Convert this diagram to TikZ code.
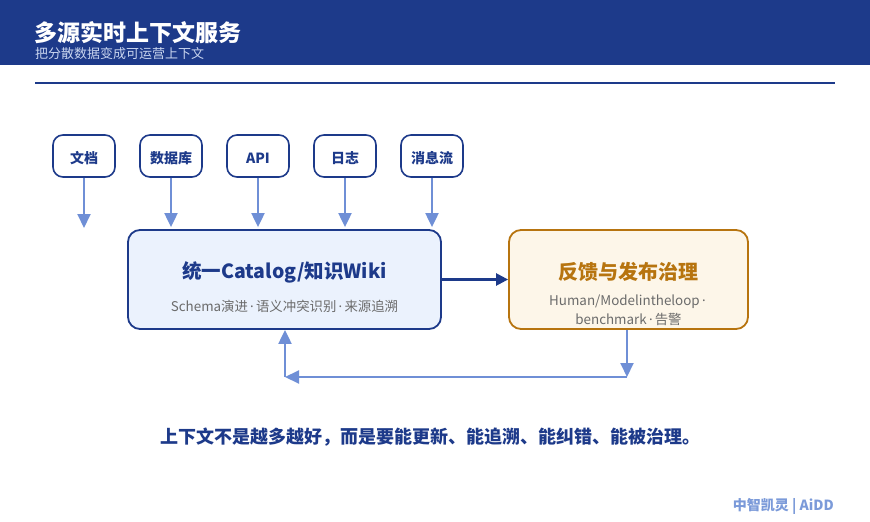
\documentclass[tikz,border=0pt]{standalone}
\usepackage{fontspec}
\setmainfont{Noto Sans CJK SC}
\newfontfamily\latin{Noto Sans}
\usetikzlibrary{positioning,arrows.meta}
\definecolor{navy}{HTML}{1D3A8A}
\definecolor{flowblue}{HTML}{6F8FD6}
\definecolor{mainfill}{HTML}{EBF2FD}
\definecolor{govfill}{HTML}{FDF6E9}
\definecolor{govedge}{HTML}{B7740F}
\definecolor{subgray}{HTML}{6B6B6B}
\definecolor{headsub}{HTML}{C9D5EF}
\definecolor{brand}{HTML}{7B9AD9}
\newcommand{\sepdot}{{\latin\,·\,}}

\tikzset{
  srcbox/.style={draw=navy,line width=1.6pt,rounded corners=10pt,fill=white,
    minimum width=62pt,minimum height=42pt,inner sep=0pt,
    text height=15pt,text depth=0pt,
    font=\fontsize{14}{16}\selectfont\bfseries,text=navy},
  feed/.style={draw=flowblue,line width=2pt,-{Triangle[length=14pt,width=13pt]}},
}

\begin{document}
\begin{tikzpicture}[x=1pt,y=-1pt]
\useasboundingbox (0,0) rectangle (870,522);
\fill[white] (0,0) rectangle (870,522);

% header band
\fill[navy] (0,0) rectangle (870,65);
\node[anchor=west,text=white,font=\fontsize{23}{25}\selectfont\bfseries,inner sep=0pt] (title) at (34,33) {多源实时上下文服务};
\node[anchor=west,text=headsub,font=\fontsize{13}{15}\selectfont,inner sep=0pt] (subtitle) at (35,54) {把分散数据变成可运营上下文};
\draw[navy,line width=1.5pt] (35,83) -- (835,83);

% sources
\node[srcbox] (s1) at (84,156) {文档};
\node[srcbox] (s2) at (171,156) {数据库};
\node[srcbox] (s3) at (258,156) {API};
\node[srcbox] (s4) at (345,156) {日志};
\node[srcbox] (s5) at (432,156) {消息流};

% catalog and governance
\node[draw=navy,line width=1.8pt,rounded corners=12pt,fill=mainfill,
  minimum width=313pt,minimum height=99pt] (main) at (284.5,279.5) {};
\node[text=navy,font=\fontsize{19.5}{22}\selectfont\bfseries] (maint) at (284.5,272) {统一Catalog/知识Wiki};
\node[text=subgray,font=\fontsize{13.4}{15}\selectfont] (mains) at (284.5,306) {Schema演进\sepdot 语义冲突识别\sepdot 来源追溯};

\node[draw=govedge,line width=1.8pt,rounded corners=12pt,fill=govfill,
  minimum width=239pt,minimum height=99pt] (gov) at (628.5,279.5) {};
\node[text=govedge,font=\fontsize{20}{22}\selectfont\bfseries] (govt) at (628.5,272) {反馈与发布治理};
\node[text=subgray,font=\fontsize{13.4}{19}\selectfont,align=center] (govs) at (628.5,310) {Human/Modelintheloop\sepdot\\benchmark\sepdot 告警};

% source arrows
\coordinate (d1) at (84,228);
\draw[feed] (s1.south) -- (d1);
\draw[feed,shorten >=2pt] (s2.south) -- (s2.south |- main.north);
\draw[feed,shorten >=2pt] (s3.south) -- (s3.south |- main.north);
\draw[feed,shorten >=2pt] (s4.south) -- (s4.south |- main.north);
\draw[feed,shorten >=2pt] (s5.south) -- (s5.south |- main.north);

\draw[navy,line width=2.4pt,-{Triangle[length=12pt,width=12pt]}] (main.east) -- (gov.west);

% feedback loop
\coordinate (fbR) at (627,377);
\coordinate (fbL) at (285,377);
\draw[feed] (fbR |- gov.south) -- (fbR);
\draw[feed] (fbR) -- (fbL);
\draw[feed] (fbL) -- (fbL |- main.south);

\node[text=navy,font=\fontsize{18}{20}\selectfont\bfseries] (motto) at (430,437) {上下文不是越多越好，而是要能更新、能追溯、能纠错、能被治理。};
\node[anchor=east,text=brand,font=\fontsize{14}{16}\selectfont\bfseries,inner sep=0pt] (brandl) at (834,506) {中智凯灵 | AiDD};
\end{tikzpicture}
\end{document}
